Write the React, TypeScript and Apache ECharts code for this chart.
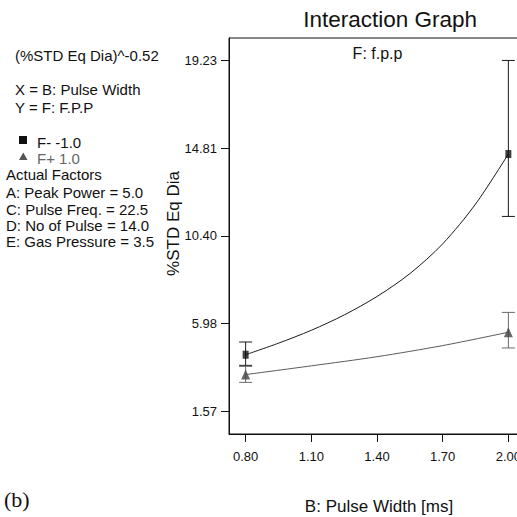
import React, { useEffect, useRef } from "react";
import * as echarts from "echarts";

// ---- data ----
const xLevels = [0.8, 2.0];
const xTicks = [0.8, 1.1, 1.4, 1.7, 2.0];
const yTicks = [1.57, 5.98, 10.4, 14.81, 19.23];

const fMinusMean = [4.42, 14.52];
const fMinusLow = [3.885, 11.38];
const fMinusHigh = [5.06, 19.23];

const fPlusMean = [3.42, 5.55];
const fPlusLow = [3.03, 4.76];
const fPlusHigh = [3.835, 6.55];

const fMinusCurveX = [0.8, 0.95, 1.1, 1.25, 1.4, 1.55, 1.7, 1.85, 2.0];
const fMinusCurveY = [4.42, 5.0, 5.65, 6.42, 7.35, 8.5, 10.0, 12.0, 14.52];

const fPlusCurveX = [0.8, 1.1, 1.4, 1.7, 2.0];
const fPlusCurveY = [3.42, 3.86, 4.32, 4.88, 5.55];

const leftLines = [
  { text: "(%STD Eq Dia)^-0.52", x: 15, y: 55.5, color: "#111" },
  { text: "X = B: Pulse Width", x: 15, y: 89.2, color: "#111" },
  { text: "Y = F: F.P.P", x: 15, y: 107.5, color: "#111" },
  { text: "F- -1.0", x: 37, y: 142, color: "#111" },
  { text: "F+ 1.0", x: 37, y: 158.5, color: "#666" },
  { text: "Actual Factors", x: 6, y: 174, color: "#111" },
  { text: "A: Peak Power = 5.0", x: 6, y: 192, color: "#111" },
  { text: "C: Pulse Freq. = 22.5", x: 6, y: 209, color: "#111" },
  { text: "D: No of Pulse = 14.0", x: 6, y: 225, color: "#111" },
  { text: "E: Gas Pressure = 3.5", x: 6, y: 241.7, color: "#111" },
];

const SANS = "Liberation Sans, Arial, sans-serif";

function errSeries(low: number[], high: number[], color: string) {
  return {
    type: "custom",
    z: 3,
    data: xLevels.map((x, i) => [x, low[i], high[i]]),
    encode: { x: 0, y: [1, 2] },
    renderItem: (params: any, api: any) => {
      const x = api.value(0);
      const top = api.coord([x, api.value(2)]);
      const bot = api.coord([x, api.value(1)]);
      const hw = 6.5;
      const style = { stroke: color, lineWidth: 1 };
      return {
        type: "group",
        children: [
          { type: "line", shape: { x1: top[0], y1: top[1], x2: bot[0], y2: bot[1] }, style },
          { type: "line", shape: { x1: top[0] - hw, y1: top[1], x2: top[0] + hw, y2: top[1] }, style },
          { type: "line", shape: { x1: bot[0] - hw, y1: bot[1], x2: bot[0] + hw, y2: bot[1] }, style },
        ],
      };
    },
  };
}

export default function App() {
  const ref = useRef<HTMLDivElement>(null);
  useEffect(() => {
    if (!ref.current) return;
    const chart = echarts.init(ref.current, null, { renderer: "svg" });
    const graphic: any[] = [
      {
        type: "text",
        x: 477,
        y: 19.5,
        style: { text: "Interaction Graph", font: `22.5px ${SANS}`, fill: "#111", align: "right", verticalAlign: "middle" },
      },
      {
        type: "text",
        x: 377.5,
        y: 53,
        style: { text: "F: f.p.p", font: `16px ${SANS}`, fill: "#111", align: "center", verticalAlign: "middle" },
      },
      {
        type: "text",
        x: 173,
        y: 223.5,
        rotation: Math.PI / 2,
        style: { text: "%STD Eq Dia", font: `17px ${SANS}`, fill: "#111", align: "center", verticalAlign: "middle" },
      },
      {
        type: "text",
        x: 379,
        y: 506.7,
        style: { text: "B: Pulse Width [ms]", font: `17px ${SANS}`, fill: "#111", align: "center", verticalAlign: "middle" },
      },
      {
        type: "text",
        x: 4,
        y: 499,
        style: { text: "(b)", font: `22px Liberation Serif, Times New Roman, serif`, fill: "#111", align: "left", verticalAlign: "middle" },
      },
      { type: "rect", shape: { x: 19, y: 136, width: 8, height: 8 }, style: { fill: "#111" } },
      { type: "polygon", shape: { points: [[19, 160], [27.5, 160], [23.25, 152.5]] }, style: { fill: "#555" } },
      ...leftLines.map((l) => ({
        type: "text",
        x: l.x,
        y: l.y,
        style: { text: l.text, font: `15px ${SANS}`, lineHeight: 14, fill: l.color, align: "left", verticalAlign: "middle" },
      })),
    ];

    chart.setOption({
      animation: false,
      backgroundColor: "#fff",
      grid: {
        left: 229,
        top: 38,
        width: 296,
        height: 396,
        containLabel: false,
        outerBoundsMode: "none",
        show: true,
        borderColor: "#111",
        borderWidth: 1,
        backgroundColor: "transparent",
      },
      xAxis: {
        type: "value",
        min: 0.724,
        max: 2.076,
        axisLine: { show: true, lineStyle: { color: "#111" } },
        splitLine: { show: false },
        axisTick: { show: true, length: 8, customValues: xTicks, lineStyle: { color: "#111" } },
        axisLabel: {
          customValues: xTicks,
          formatter: (v: number) => v.toFixed(2),
          fontSize: 13,
          fontFamily: SANS,
          color: "#111",
          margin: 16,
        },
      },
      yAxis: {
        type: "value",
        min: 0.43,
        max: 20.36,
        axisLine: { show: true, lineStyle: { color: "#111" } },
        splitLine: { show: false },
        axisTick: { show: true, length: 8, customValues: yTicks, lineStyle: { color: "#111" } },
        axisLabel: {
          customValues: yTicks,
          formatter: (v: number) => v.toFixed(2),
          fontSize: 13,
          fontFamily: SANS,
          color: "#111",
          margin: 12,
        },
      },
      series: [
        {
          type: "line",
          name: "F- -1.0",
          data: fMinusCurveX.map((x, i) => [x, fMinusCurveY[i]]),
          smooth: 0.3,
          showSymbol: false,
          lineStyle: { color: "#1a1a1a", width: 1 },
          z: 2,
        },
        {
          type: "line",
          name: "F+ 1.0",
          data: fPlusCurveX.map((x, i) => [x, fPlusCurveY[i]]),
          smooth: 0.3,
          showSymbol: false,
          lineStyle: { color: "#5a5a5a", width: 1 },
          z: 2,
        },
        errSeries(fMinusLow, fMinusHigh, "#1a1a1a"),
        errSeries(fPlusLow, fPlusHigh, "#6a6a6a"),
        {
          type: "scatter",
          data: xLevels.map((x, i) => [x, fMinusMean[i]]),
          symbol: "rect",
          symbolSize: [6, 8],
          itemStyle: { color: "#111" },
          z: 5,
        },
        {
          type: "scatter",
          data: xLevels.map((x, i) => [x, fPlusMean[i]]),
          symbol: "triangle",
          symbolSize: [9, 10],
          itemStyle: { color: "#444" },
          z: 5,
        },
      ],
      graphic,
    });
    return () => chart.dispose();
  }, []);
  return <div ref={ref} style={{ position: "absolute", left: 0, top: 0, width: 517, height: 517 }} />;
}
